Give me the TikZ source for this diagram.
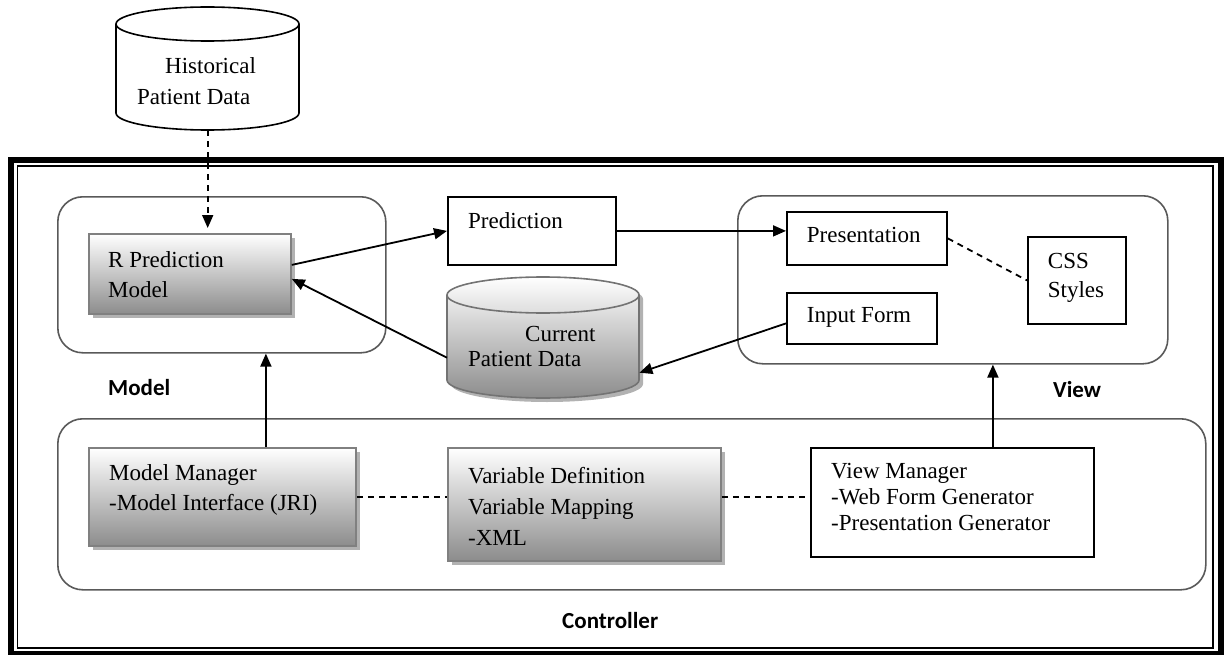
\documentclass[tikz,border=0pt]{standalone}
\usepackage{fontspec}
\setmainfont{Liberation Serif}
\newfontfamily\tagfont{Carlito}
\usetikzlibrary{arrows.meta,calc,shadows}

\tikzset{
  conn/.style={line width=1.8pt, -{Triangle[length=13pt,width=11pt]}},
  dashconn/.style={line width=1.8pt, dash pattern=on 6pt off 5pt},
  plainbox/.style={draw, line width=1.8pt, fill=white, anchor=north west, inner sep=0pt},
  shadebox/.style={draw=black!50, line width=1.8pt, anchor=north west, inner sep=0pt,
    top color=white, bottom color=black!45,
    drop shadow={shadow xshift=4pt, shadow yshift=-4pt, opacity=.3, fill=black}},
  group/.style={draw=black!65, line width=1.6pt, rounded corners=25pt, anchor=north west, inner sep=0pt},
  dbspot/.style={anchor=north west, inner sep=0pt},
  txt/.style={anchor=north west, inner sep=0pt, align=left, font=\fontsize{23}{#1}\selectfont},
  txt/.default=30,
  tag/.style={anchor=base west, inner sep=0pt, font=\tagfont\bfseries\fontsize{23}{26}\selectfont}
}

% outline of a standing cylinder: left, right, top centre y, bottom centre y, y radius
\newcommand\dboutline[5]{(#1,#3) -- (#1,#4) arc[start angle=180, end angle=0, x radius={(#2-#1)/2}, y radius=#5]
  -- (#2,#3) arc[start angle=0, end angle=-180, x radius={(#2-#1)/2}, y radius=#5] -- cycle}
\newcommand\dbrim[5]{(#1,#3) arc[start angle=180, end angle=0, x radius={(#2-#1)/2}, y radius=#5]}

\begin{document}
\begin{tikzpicture}[x=1pt, y=-1pt]
  \useasboundingbox (0,0) rectangle (1225,655);

  % outer double frame
  \draw[line width=6pt] (10.5,160) rectangle (1220.5,654);
  \draw[line width=1.2pt] (17.5,166) rectangle (1213,648);

  % model / view / controller groups
  \node[group, minimum width=328, minimum height=156] (modelgrp) at (57,196) {};
  \node[group, minimum width=430, minimum height=168] (viewgrp) at (737,195) {};
  \node[group, minimum width=1148, minimum height=171] (ctrlgrp) at (57,418) {};

  \node[tag] (modeltag) at (108,395) {Model};
  \node[tag] (viewtag) at (1053,397) {View};
  \node[tag] (ctrltag) at (562,628) {Controller};

  % data stores
  \node[dbspot, minimum width=183, minimum height=123] (hist) at (116,7) {};
  \draw[line width=1.6pt, fill=white] \dboutline{116}{299}{24}{113}{17};
  \draw[line width=1.6pt] \dbrim{116}{299}{24}{113}{17};
  \node[txt=31] (hist-t) at (137,57.4) {\hspace*{28pt}Historical\\Patient Data};

  \node[dbspot, minimum width=192, minimum height=121] (cur) at (447,277) {};
  \fill[black, opacity=.3, shift={(4,4)}] \dboutline{447}{639}{295}{380}{18};
  \shade[top color=white, bottom color=black!45] \dboutline{447}{639}{295}{380}{18};
  \draw[black!55, line width=1.6pt] \dboutline{447}{639}{295}{380}{18};
  \draw[black!55, line width=1.6pt] \dbrim{447}{639}{295}{380}{18};
  \node[txt=25] (cur-t) at (468,326.4) {\hspace*{57pt}Current\\Patient Data};

  % boxes
  \node[shadebox, minimum width=202, minimum height=80] (rpm) at (88,233) {};
  \node[txt] (rpm-t) at (108,251.4) {R Prediction\\Model};

  \node[plainbox, minimum width=168, minimum height=68] (pred) at (447,196) {};
  \node[txt] (pred-t) at (468,212.4) {Prediction};

  \node[plainbox, minimum width=160, minimum height=53] (pres) at (786,211) {};
  \node[txt] (pres-t) at (806.7,227.4) {Presentation};

  \node[plainbox, minimum width=150, minimum height=51] (inp) at (786,292) {};
  \node[txt] (inp-t) at (806.7,307.4) {Input Form};

  \node[plainbox, minimum width=98, minimum height=87] (css) at (1027,236) {};
  \node[txt=29] (css-t) at (1047.7,253.4) {CSS\\Styles};

  \node[shadebox, minimum width=267, minimum height=98] (mm) at (88,447) {};
  \node[txt] (mm-t) at (109,464.4) {Model Manager\\-Model Interface (JRI)};

  \node[shadebox, minimum width=273, minimum height=113] (var) at (447,447) {};
  \node[txt=31] (var-t) at (468,467.4) {Variable Definition\\Variable Mapping\\-XML};

  \node[plainbox, minimum width=283, minimum height=109] (vm) at (810,447) {};
  \node[txt=26] (vm-t) at (831,463.4) {View Manager\\-Web Form Generator\\-Presentation Generator};

  % connectors
  \draw[dashconn, -{Triangle[length=13pt,width=11pt]}, shorten >=5pt] (hist.south) -- (hist.south |- rpm.north);
  \draw[conn] ($(rpm.east)+(0,-9)$) -- (pred.west);
  \draw[conn] (pred.east) -- (pred.east -| pres.west);
  \draw[conn] ($(cur.west)+(0,20)$) -- ($(rpm.east)+(0,5)$);
  \draw[conn] ($(inp.west)+(0,5)$) -- ($(cur.east)+(0,35)$);
  \draw[dashconn] (pres.east) -- (css.west);

  \coordinate (mmtop) at ($(mm.north)+(43.5,0)$);
  \coordinate (vmtop) at ($(vm.north)+(40.5,0)$);
  \draw[conn] (mmtop) -- (mmtop |- modelgrp.south);
  \draw[conn] (vmtop) -- (vmtop |- viewgrp.south);

  \draw[dashconn] (mm.east) -- (mm.east -| var.west);
  \draw[dashconn] (mm.east -| var.east) -- (mm.east -| vm.west);
\end{tikzpicture}
\end{document}
